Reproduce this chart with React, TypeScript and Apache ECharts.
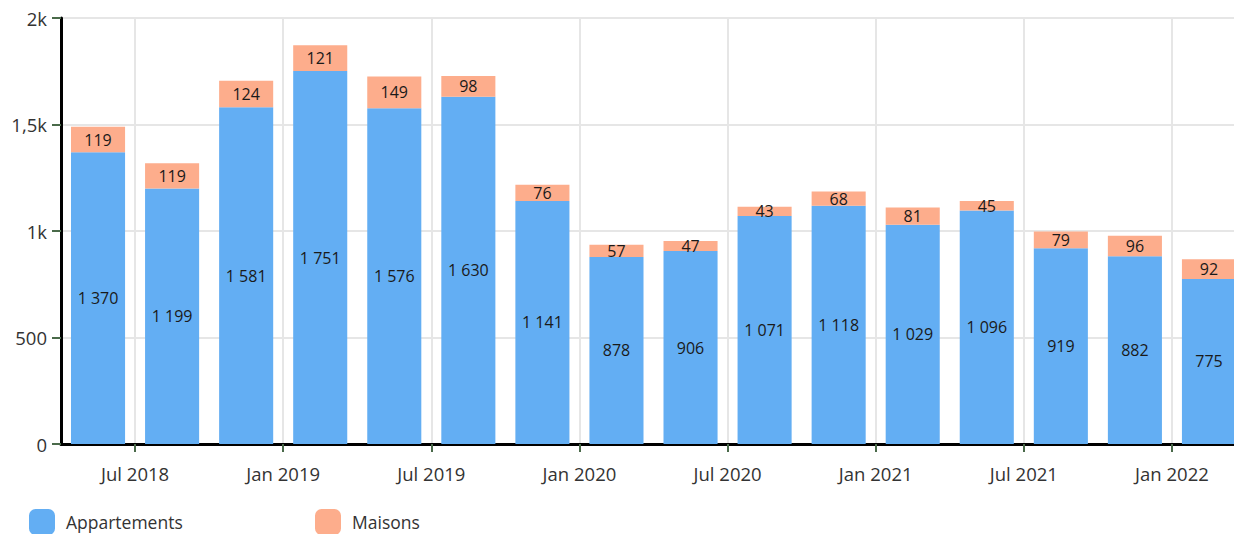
import React, { useEffect, useRef } from "react";
import * as echarts from "echarts";

const quarters = [
  "T2 2018", "T3 2018", "T4 2018", "T1 2019", "T2 2019", "T3 2019", "T4 2019", "T1 2020",
  "T2 2020", "T3 2020", "T4 2020", "T1 2021", "T2 2021", "T3 2021", "T4 2021", "T1 2022",
];
const appartements = [1370, 1199, 1581, 1751, 1576, 1630, 1141, 878, 906, 1071, 1118, 1029, 1096, 919, 882, 775];
const maisons = [119, 119, 124, 121, 149, 98, 76, 57, 47, 43, 68, 81, 45, 79, 96, 92];
const boundaryLabels = [
  "", "Jul 2018", "", "Jan 2019", "", "Jul 2019", "", "Jan 2020", "",
  "Jul 2020", "", "Jan 2021", "", "Jul 2021", "", "Jan 2022", "",
];

const FONT = "'Open Sans', 'Noto Sans', sans-serif";
const BLUE = "#63aef3";
const ORANGE = "#fdad8c";
const TICK = "#4a6a4a";
const GRID = "#e6e6e6";

const fmt = (v: number) => String(v).replace(/\B(?=(\d{3})+(?!\d))/g, " ");
const yFmt = (v: number) => (v >= 1000 ? String(v / 1000).replace(".", ",") + "k" : String(v));
const odd = (i: number) => i % 2 === 1;

export default function App() {
  const ref = useRef<HTMLDivElement>(null);
  useEffect(() => {
    if (!ref.current) return;
    const chart = echarts.init(ref.current, null, { renderer: "svg" });
    chart.setOption({
      animation: false,
      textStyle: { fontFamily: FONT },
      grid: { left: 61, top: 18, right: 0, bottom: 90, containLabel: false },
      xAxis: [
        {
          type: "category",
          data: quarters,
          axisLine: { show: true, lineStyle: { color: "#000", width: 3 } },
          axisTick: { show: false },
          axisLabel: { show: false },
          splitLine: { show: false },
        },
        {
          type: "category",
          data: boundaryLabels,
          boundaryGap: false,
          position: "bottom",
          axisLine: { show: false },
          axisTick: { show: true, interval: odd, length: 8, lineStyle: { color: TICK, width: 2 } },
          splitLine: { show: true, interval: odd, lineStyle: { color: GRID, width: 2 } },
          axisLabel: { show: true, interval: odd, margin: 20, fontSize: 18.5, color: "#333", fontFamily: FONT },
        },
      ],
      yAxis: {
        type: "value",
        min: 0,
        max: 2000,
        interval: 500,
        axisLine: { show: true, lineStyle: { color: "#000", width: 3 } },
        axisTick: { show: true, length: 9, lineStyle: { color: TICK, width: 2 } },
        axisLabel: { formatter: yFmt, fontSize: 18.5, color: "#333", margin: 14, fontFamily: FONT },
        splitLine: { show: true, lineStyle: { color: GRID, width: 2 } },
      },
      legend: [
        {
          data: ["Appartements"],
          left: 24,
          top: 504,
          itemWidth: 26,
          itemHeight: 26,
          icon: "roundRect",
          textStyle: { fontSize: 17.5, color: "#333", fontFamily: FONT, padding: [0, 0, 0, 6] },
        },
        {
          data: ["Maisons"],
          left: 310,
          top: 504,
          itemWidth: 26,
          itemHeight: 26,
          icon: "roundRect",
          textStyle: { fontSize: 17.5, color: "#333", fontFamily: FONT, padding: [0, 0, 0, 6] },
        },
      ],
      series: [
        {
          name: "Appartements",
          type: "bar",
          stack: "total",
          data: appartements,
          barCategoryGap: "27%",
          itemStyle: { color: BLUE },
          label: { show: true, position: "inside", color: "#1a1a1a", fontSize: 16, fontFamily: FONT, formatter: (p: any) => fmt(p.value) },
        },
        {
          name: "Maisons",
          type: "bar",
          stack: "total",
          data: maisons,
          barCategoryGap: "27%",
          itemStyle: { color: ORANGE },
          label: { show: true, position: "inside", color: "#1a1a1a", fontSize: 16, fontFamily: FONT, formatter: (p: any) => fmt(p.value) },
        },
      ],
    });
    return () => chart.dispose();
  }, []);
  return (
    <div style={{ position: "fixed", left: 0, top: 0, width: 1234, height: 534, overflow: "hidden", background: "#fff" }}>
      <div ref={ref} style={{ width: 1246, height: 534 }} />
    </div>
  );
}
